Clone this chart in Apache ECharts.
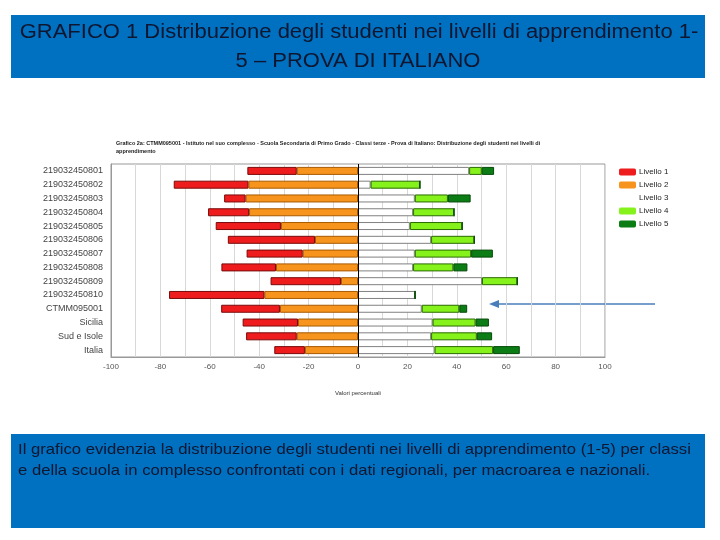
<!DOCTYPE html>
<html>
<head>
<meta charset="utf-8">
<script src="https://cdn.jsdelivr.net/npm/echarts@6/dist/echarts.min.js"></script>
<style>
html,body{margin:0;padding:0;background:#fff;}
#c{width:720px;height:540px;}
</style>
</head>
<body>
<div id="c"></div>
<script>
const categories = ['219032450801','219032450802','219032450803','219032450804','219032450805','219032450806','219032450807','219032450808','219032450809','219032450810','CTMM095001','Sicilia','Sud e Isole','Italia'];
const livello1 = [20, 30.2, 8.7, 16.6, 26.4, 35.3, 22.7, 22.1, 28.5, 38.6, 23.8, 22.4, 20.5, 12.4];
const livello2 = [24.8, 44.4, 45.5, 44.1, 31.2, 17.4, 22.4, 33.2, 6.9, 37.9, 31.6, 24.3, 24.8, 21.5];
const livello3 = [45, 5.1, 23, 22.3, 21, 29.6, 23, 22.3, 50.2, 23.1, 25.8, 30.2, 29.6, 31];
const livello4 = [5.1, 20, 13.4, 16.6, 21.2, 17.5, 22.8, 16.3, 14.3, 0, 15.2, 17.4, 18.5, 23.7];
const livello5 = [5, 0, 9.2, 0, 0, 0, 8.8, 5.7, 0, 0, 3.2, 5.4, 6.2, 10.8];
const xTicks = [-100, -80, -60, -40, -20, 0, 20, 40, 60, 80, 100];
const seriesNames = ['Livello 1','Livello 2','Livello 3','Livello 4','Livello 5'];
const chartTitle = 'Grafico 2a: CTMM095001 - Istituto nel suo complesso - Scuola Secondaria di Primo Grado - Classi terze - Prova di Italiano: Distribuzione degli studenti nei livelli di\napprendimento';
const headerLines = ['GRAFICO 1 Distribuzione degli studenti nei livelli di apprendimento 1-', '5 \u2013 PROVA DI ITALIANO'];
const footerLines = ['Il grafico evidenzia la distribuzione degli studenti nei livelli di apprendimento (1-5) per classi', 'e della scuola in complesso confrontati con i dati regionali, per macroarea e nazionali.'];

const chart = echarts.init(document.getElementById('c'), null, {renderer:'canvas'});

const barW = 8;
function mk(name, data, color, border, neg) {
  return {
    name: name, type: 'bar', stack: 'tot', barWidth: barW,
    data: data.map(v => neg ? -v : v),
    itemStyle: {color: color, borderColor: border, borderWidth: 1},
    emphasis: {disabled: true},
    animation: false
  };
}
const s2 = mk('Livello 2', livello2, '#f7941d', '#a85a00', true);
s2.markLine = {silent: true, symbol: 'none', animation:false, label:{show:false},
  lineStyle:{color:'#000', width:1, type:'solid'}, data:[{xAxis:0}]};
const series = [
  s2,
  mk('Livello 1', livello1, '#ee1c1c', '#7a0a0a', true),
  mk('Livello 3', livello3, '#ffffff', '#808080', false),
  mk('Livello 4', livello4, '#86f21c', '#2a6a00', false),
  mk('Livello 5', livello5, '#0b7d14', '#064a0a', false)
];

const hFont = '20px "Liberation Sans", Arial, sans-serif';
const fFont = '14.5px "Liberation Sans", Arial, sans-serif';

const option = {
  backgroundColor: '#fff',
  animation: false,
  title: {
    text: chartTitle, left: 111, top: 134,
    textStyle: {fontSize: 5.5, fontWeight: 'bold', color: '#222', fontFamily: 'Liberation Sans', lineHeight: 8}
  },
  legend: {
    data: seriesNames, orient: 'vertical', left: 614, top: 163,
    itemWidth: 17, itemHeight: 7, itemGap: 5,
    itemStyle: {borderWidth: 0},
    textStyle: {fontSize: 8, color: '#222', fontFamily: 'Liberation Sans', padding:[0,0,0,-2]},
    selectedMode: false
  },
  grid: {left: 111, right: 115, top: 164, bottom: 183, containLabel: false, show: true, borderColor: '#999', borderWidth: 1, backgroundColor:'transparent'},
  xAxis: {
    type: 'value', min: -100, max: 100, interval: 20,
    axisLabel: {fontSize: 8, color: '#555', fontFamily: 'Liberation Sans', margin: 6,
      formatter: v => xTicks.indexOf(v) >= 0 ? String(v) : ''},
    axisLine: {show: true, onZero: false, lineStyle: {color: '#999'}},
    axisTick: {show: false},
    splitLine: {show: true, lineStyle: {color: '#d8d8d8', width: 1}},
    minorTick: {show: false, splitNumber: 2},
    minorSplitLine: {show: true, lineStyle: {color: '#d8d8d8', width: 1}},
    name: 'Valori percentuali', nameLocation: 'middle', nameGap: 33,
    nameTextStyle: {fontSize: 6, color: '#333', fontFamily: 'Liberation Sans'}
  },
  yAxis: {
    type: 'category', data: categories, inverse: true,
    axisLabel: {fontSize: 9, color: '#444', fontFamily: 'Liberation Sans', margin: 8},
    axisLine: {show: true, onZero: false, lineStyle: {color: '#999'}},
    axisTick: {show: false},
    splitLine: {show: false}
  },
  series: series,
  graphic: [
    {type: 'rect', shape: {x: 11, y: 15, width: 694, height: 63}, style: {fill: '#0070c0'}, silent: true},
    {type: 'text', x: 359, y: 32, scaleX: 1.1, style: {text: headerLines[0], fill: '#0e1630', font: hFont, textAlign: 'center', textVerticalAlign: 'middle'}},
    {type: 'text', x: 358, y: 61, scaleX: 1.1, style: {text: headerLines[1], fill: '#0e1630', font: hFont, textAlign: 'center', textVerticalAlign: 'middle'}},
    {type: 'rect', shape: {x: 11, y: 434, width: 694, height: 94}, style: {fill: '#0070c0'}, silent: true},
    {type: 'text', x: 18, y: 450, scaleX: 1.15, style: {text: footerLines[0], fill: '#0e1630', font: fFont, textAlign: 'left', textVerticalAlign: 'middle'}},
    {type: 'text', x: 18, y: 471, scaleX: 1.15, style: {text: footerLines[1], fill: '#0e1630', font: fFont, textAlign: 'left', textVerticalAlign: 'middle'}},
    {type: 'line', shape: {x1: 655, y1: 304, x2: 496, y2: 304}, style: {stroke: '#4a7ebb', lineWidth: 1.5}, silent: true},
    {type: 'polygon', shape: {points: [[489, 304], [499, 300], [499, 308]]}, style: {fill: '#4a7ebb'}, silent: true}
  ]
};
chart.setOption(option);
</script>
</body>
</html>
